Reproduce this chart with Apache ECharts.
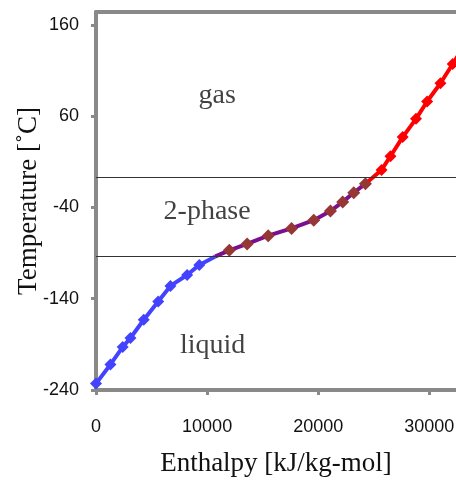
<!DOCTYPE html>
<html>
<head>
<meta charset="utf-8">
<script src="https://cdn.jsdelivr.net/npm/echarts@6/dist/echarts.min.js"></script>
<style>
  html, body { margin: 0; padding: 0; background: #fff; }
  #main { width: 456px; height: 480px; }
</style>
</head>
<body>
<div id="main"></div>
<script>
// liquid branch
const liquidH = [0, 1300, 2400, 3100, 4300, 5600, 6700, 8200, 9300, 10700];
const liquidT = [-233, -212, -193, -183, -163, -143, -126, -114, -103, -94];
// two-phase branch
const twoPhaseH = [10700, 12000, 13600, 15500, 17600, 19600, 21100, 22200, 23200, 24250];
const twoPhaseT = [-94, -87, -80, -71, -63, -54, -44, -34, -24, -14];
// gas branch
const gasH = [24250, 25700, 26500, 27600, 28800, 29800, 31000, 32100, 33200];
const gasT = [-14, 1, 16, 37, 57, 76, 96, 117, 138];

// phase boundaries (bubble / dew)
const boundaryT = [-94, -7];

// region labels
const regionNames = ['gas', '2-phase', 'liquid'];
const regionH = [10900, 10000, 10500];
const regionT = [82, -45, -191];

const yTicks = [-240, -140, -40, 60, 160];

const pairs = (xs, ys, hideFirst, hideLast) => xs.map((x, i) => {
  const item = { value: [x, ys[i]] };
  if ((hideFirst && i === 0) || (hideLast && i === xs.length - 1)) item.symbol = 'none';
  return item;
});

const axisGray = '#898989';
const serif = '"Liberation Serif", "Times New Roman", serif';
const sans = '"Liberation Sans", Arial, sans-serif';

const chart = echarts.init(document.getElementById('main'));
const option = {
  animation: false,
  grid: { left: 96, right: 0, top: 12, bottom: 90, outerBoundsMode: 'none' },
  xAxis: [
    {
      type: 'value',
      min: 0,
      max: 32400,
      interval: 10000,
      name: 'Enthalpy [kJ/kg-mol]',
      nameLocation: 'middle',
      nameGap: 60,
      nameTextStyle: { fontFamily: serif, fontSize: 27, color: '#111' },
      splitLine: { show: false },
      axisLine: { onZero: false, lineStyle: { color: axisGray, width: 4 } },
      axisTick: { length: 5, lineStyle: { color: axisGray, width: 3 } },
      axisLabel: { margin: 28, fontFamily: sans, fontSize: 18, color: '#111', showMaxLabel: false, formatter: v => String(v) }
    },
    {
      type: 'value',
      position: 'top',
      min: 0,
      max: 32400,
      axisLine: { show: true, onZero: false, lineStyle: { color: axisGray, width: 4 } },
      axisTick: { show: false },
      axisLabel: { show: false },
      splitLine: { show: false }
    }
  ],
  yAxis: {
    type: 'value',
    min: -240,
    max: 174,
    name: 'Temperature [˚C]',
    nameLocation: 'middle',
    nameGap: 54,
    nameMoveOverlap: false,
    nameTextStyle: { fontFamily: serif, fontSize: 27, color: '#111' },
    splitLine: { show: false },
    axisLine: { show: true, onZero: false, lineStyle: { color: axisGray, width: 4 } },
    axisTick: { show: true, length: 5, customValues: yTicks, lineStyle: { color: axisGray, width: 3 } },
    axisLabel: { margin: 17, fontFamily: sans, fontSize: 18, color: '#111', customValues: yTicks }
  },
  series: [
    {
      name: 'liquid',
      type: 'line',
      data: pairs(liquidH, liquidT, false, true),
      symbol: 'diamond',
      symbolSize: 12,
      lineStyle: { color: '#4343ff', width: 4 },
      itemStyle: { color: '#4343ff' },
      markLine: {
        silent: true,
        symbol: 'none',
        label: { show: false },
        lineStyle: { color: '#333', width: 1, type: 'solid' },
        data: boundaryT.map(t => ({ yAxis: t }))
      }
    },
    {
      name: 'gas',
      type: 'line',
      data: pairs(gasH, gasT, true, false),
      symbol: 'diamond',
      symbolSize: 12,
      lineStyle: { color: '#ff0000', width: 4 },
      itemStyle: { color: '#ff0000' }
    },
    {
      name: '2-phase',
      type: 'line',
      data: pairs(twoPhaseH, twoPhaseT, true, false),
      symbol: 'diamond',
      symbolSize: 13,
      lineStyle: { color: '#7d0f8f', width: 4 },
      itemStyle: { color: '#953735' }
    },
    {
      name: 'regions',
      type: 'scatter',
      silent: true,
      symbolSize: 1,
      itemStyle: { color: 'transparent' },
      data: regionNames.map((n, i) => [regionH[i], regionT[i], n]),
      label: {
        show: true,
        position: 'inside',
        formatter: p => p.data[2],
        fontFamily: serif,
        fontSize: 28,
        color: '#111'
      }
    }
  ]
};
chart.setOption(option);
</script>
</body>
</html>
